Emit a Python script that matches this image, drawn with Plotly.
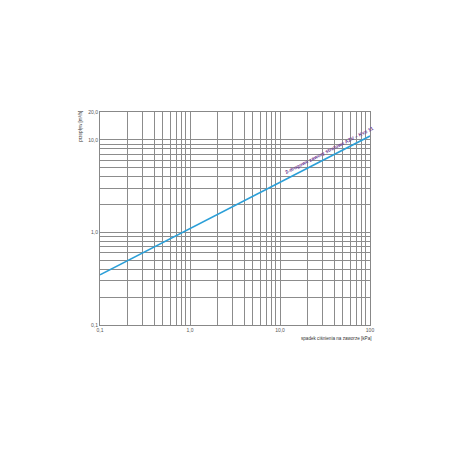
import plotly.graph_objects as go

# Data
pressure_drop_kpa = [0.1, 100]
flow_m3h = [0.348, 11.0]
series_label = "2-drogowe zawory strefowe AZV – Kvs 11"

x_label_vals = [0.1, 1, 10, 100]
x_label_text = ["0,1", "1,0", "10,0", "100"]
y_label_vals = [0.1, 1, 10, 20]
y_label_text = ["0,1", "1,0", "10,0", "20,0"]

FONT = "Liberation Sans, Arial, sans-serif"

def grid_vals(decades, top):
    vals = []
    for d in decades:
        for m in range(1, 10):
            v = round(m * d, 6)
            if v <= top:
                vals.append(v)
    if top not in vals:
        vals.append(top)
    return vals

xv = grid_vals([0.1, 1, 10], 100)
yv = grid_vals([0.1, 1, 10], 20)

def texts(vals, lv, lt):
    out = []
    for v in vals:
        t = ""
        for a, b in zip(lv, lt):
            if abs(v - a) < 1e-9:
                t = b
        out.append(t)
    return out

fig = go.Figure()
fig.add_trace(go.Scatter(x=pressure_drop_kpa, y=flow_m3h, mode="lines",
                         line=dict(color="#2b9fd8", width=1.6), showlegend=False))

fig.add_annotation(x=1.545, y=0.89, xref="x", yref="y", text="<b>" + series_label + "</b>",
                   showarrow=False, textangle=-27,
                   font=dict(family=FONT, size=5, color="#6f3b96"))

axis_common = dict(showline=True, linecolor="#888", linewidth=1, mirror=True,
                   showgrid=True, gridcolor="#8c8c8c", gridwidth=1, ticks="",
                   zeroline=False, tickfont=dict(family=FONT, size=5, color="#555"))

fig.update_xaxes(type="log", range=[-1, 2], tickmode="array", tickvals=xv,
                 ticktext=texts(xv, x_label_vals, x_label_text), **axis_common)
fig.update_yaxes(type="log", range=[-1, 1.30103], tickmode="array", tickvals=yv,
                 ticktext=texts(yv, y_label_vals, y_label_text), **axis_common)

fig.add_annotation(x=1.01, y=-0.04, xref="paper", yref="paper", xanchor="right", yanchor="top",
                   text="spadek ciśnienia na zaworze [kPa]", showarrow=False,
                   font=dict(family=FONT, size=4.6, color="#333"))
fig.add_annotation(x=-0.072, y=1.015, xref="paper", yref="paper", xanchor="center", yanchor="top",
                   text="przepływ [m³/h]", showarrow=False, textangle=-90,
                   font=dict(family=FONT, size=4.6, color="#333"))

fig.update_layout(width=450, height=450, margin=dict(l=92, r=88, t=104, b=133),
                  plot_bgcolor="white", paper_bgcolor="white")

fig.write_html("out.html")
